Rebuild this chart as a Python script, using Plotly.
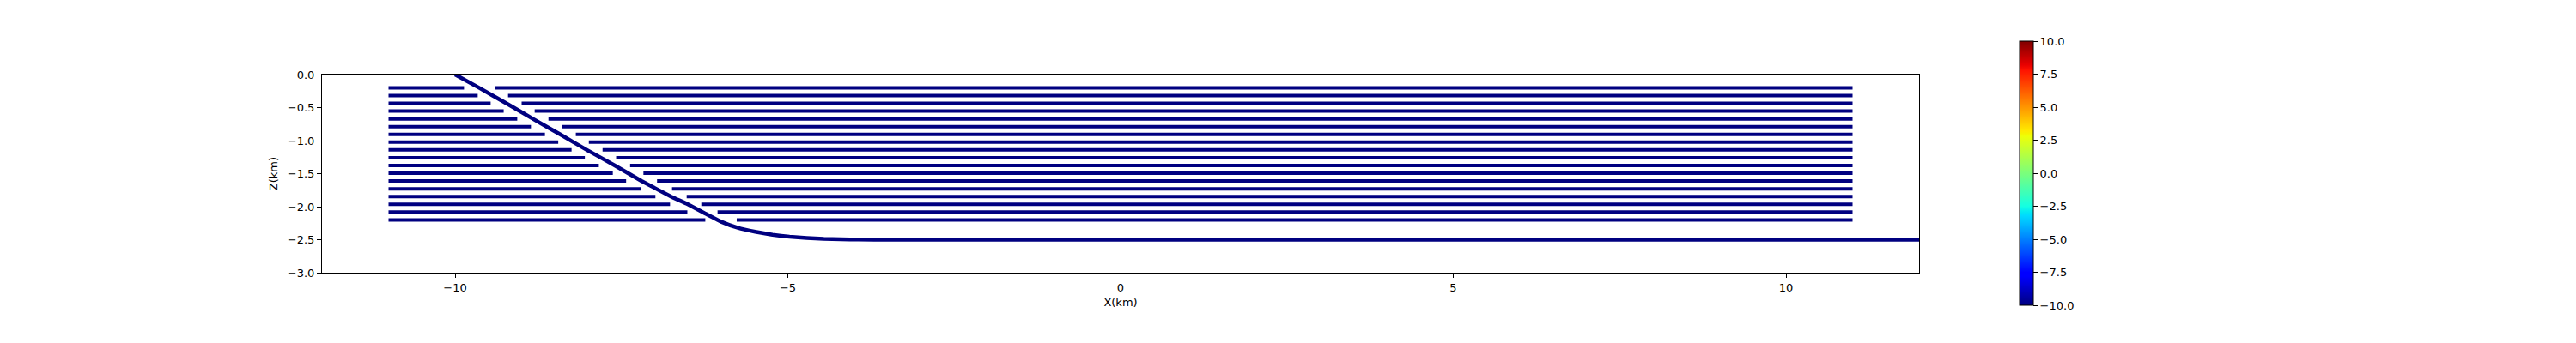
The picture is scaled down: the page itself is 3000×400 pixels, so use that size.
import plotly.graph_objects as go

# ---- data ----
layer_depths = [-0.2, -0.318, -0.435, -0.553, -0.671, -0.788, -0.906, -1.024, -1.141,
                -1.259, -1.376, -1.494, -1.612, -1.729, -1.847, -1.965, -2.082, -2.2]
layer_x_start = -11.0
layer_x_end = 11.0
left_seg_end = [-9.866, -9.66, -9.466, -9.27, -9.066, -8.86, -8.65, -8.45, -8.25,
                -8.05, -7.84, -7.63, -7.43, -7.21, -6.99, -6.77, -6.51, -6.24]
right_seg_start = [-9.406, -9.204, -9.0, -8.804, -8.597, -8.39, -8.186, -7.99, -7.784,
                   -7.58, -7.37, -7.17, -6.965, -6.74, -6.52, -6.30, -6.056, -5.768]

fault_x = [-10.0, -9.64, -9.23, -8.83, -8.42, -8.02, -7.60, -7.20, -6.755, -6.52,
           -6.265, -6.007, -5.75, -5.49, -5.23, -4.974, -4.716, -4.46, -4.2, -3.94, -3.3, 12.0]
fault_z = [0.0, -0.20, -0.435, -0.67, -0.906, -1.141, -1.376, -1.61, -1.847, -1.955,
           -2.09, -2.225, -2.32, -2.38, -2.425, -2.455, -2.473, -2.487, -2.494, -2.498, -2.5, -2.5]

x_ticks = [-10, -5, 0, 5, 10]
z_ticks = [0.0, -0.5, -1.0, -1.5, -2.0, -2.5, -3.0]
cbar_ticks = [-10.0, -7.5, -5.0, -2.5, 0.0, 2.5, 5.0, 7.5, 10.0]

NAVY = "#000080"

def fmt(v, nd=1):
    s = f"{abs(v):.{nd}f}"
    return ("\u2212" + s) if v < 0 else s

# matplotlib 'jet'
jet = [
    [0.0, "rgb(0,0,128)"], [0.11, "rgb(0,0,255)"], [0.125, "rgb(0,0,255)"],
    [0.34, "rgb(0,219,255)"], [0.35, "rgb(0,229,246)"], [0.375, "rgb(20,255,226)"],
    [0.64, "rgb(238,255,8)"], [0.65, "rgb(246,244,0)"], [0.66, "rgb(255,234,0)"],
    [0.89, "rgb(255,18,0)"], [0.91, "rgb(232,0,0)"], [1.0, "rgb(128,0,0)"],
]

fig = go.Figure()

for z, le, rs in zip(layer_depths, left_seg_end, right_seg_start):
    fig.add_trace(go.Scatter(x=[layer_x_start, le], y=[z, z], mode="lines",
                             line=dict(color=NAVY, width=4), showlegend=False, hoverinfo="skip"))
    fig.add_trace(go.Scatter(x=[rs, layer_x_end], y=[z, z], mode="lines",
                             line=dict(color=NAVY, width=4), showlegend=False, hoverinfo="skip"))

fig.add_trace(go.Scatter(x=fault_x, y=fault_z, mode="lines",
                         line=dict(color=NAVY, width=4.5, shape="spline", smoothing=0.3),
                         showlegend=False, hoverinfo="skip"))

# colorbar carrier
fig.add_trace(go.Scatter(
    x=[None], y=[None], mode="markers", showlegend=False, hoverinfo="skip",
    marker=dict(color=[0], cmin=-10, cmax=10, colorscale=jet, showscale=True,
                colorbar=dict(
                    x=1.0629, xanchor="left", xref="paper",
                    y=0.502, yanchor="middle", ypad=0, xpad=0,
                    thickness=16, thicknessmode="pixels",
                    len=308, lenmode="pixels",
                    outlinewidth=1, outlinecolor="black",
                    ticks="outside", ticklen=5, tickwidth=1, tickcolor="black",
                    tickvals=cbar_ticks, ticktext=[fmt(v) for v in cbar_ticks],
                    tickfont=dict(family="DejaVu Sans", size=13, color="black"),
                ))))

# page body has an 8px margin: shift figure so plot area lands where the reference has it
fig.update_layout(
    width=2992, height=392,
    margin=dict(l=367, r=765, t=79, b=82),
    plot_bgcolor="white", paper_bgcolor="white",
    font=dict(family="DejaVu Sans", size=13, color="black"),
    xaxis=dict(range=[-12, 12], showgrid=False, zeroline=False,
               showline=True, linecolor="black", linewidth=1, mirror=True,
               ticks="outside", ticklen=5, tickcolor="black",
               tickvals=x_ticks, ticktext=[fmt(v, 0) for v in x_ticks],
               title=dict(text="X(km)", standoff=6, font=dict(size=13))),
    yaxis=dict(range=[-3, 0], showgrid=False, zeroline=False,
               showline=True, linecolor="black", linewidth=1, mirror=True,
               ticks="outside", ticklen=5, tickcolor="black",
               tickvals=z_ticks, ticktext=[fmt(v) for v in z_ticks],
               title=dict(text="Z(km)", standoff=8, font=dict(size=13))),
)

fig.write_html("out.html")
